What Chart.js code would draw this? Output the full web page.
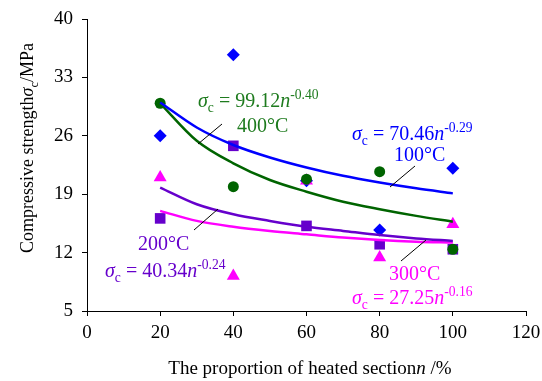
<!DOCTYPE html>
<html>
<head>
<meta charset="utf-8">
<script src="https://cdn.jsdelivr.net/npm/chart.js@4"></script>
<style>
  html, body { margin: 0; padding: 0; background: #fff; }
  #wrap { width: 542px; height: 381px; }
</style>
</head>
<body>
<div id="wrap"><canvas id="chart"></canvas></div>
<script>
// measured points (n in %, strength in MPa)
const nValues = [20, 40, 60, 80, 100];
const s100 = [26.0, 35.7, 20.6, 14.7, 22.1];
const s200 = [16.1, 24.8, 15.2, 13.0, 12.4];
const s300 = [21.0, 9.2, 20.6, 11.4, 15.4];
const s400 = [29.9, 19.9, 20.8, 21.7, 12.4];

// trend curves
const fitN = [20, 30, 40, 50, 60, 70, 80, 90, 100];
const fit100 = [30.0, 27.0, 24.9, 23.4, 22.2, 21.2, 20.4, 19.7, 19.1];
const fit200 = [19.8, 17.8, 16.6, 15.8, 15.1, 14.6, 14.1, 13.7, 13.4];
const fit300 = [17.0, 15.8, 15.1, 14.6, 14.2, 13.8, 13.5, 13.3, 13.2];
const fit400 = [29.9, 25.4, 22.7, 20.7, 19.3, 18.1, 17.2, 16.4, 15.7];

const xTicks = [0, 20, 40, 60, 80, 100, 120];
const yTicks = [5, 12, 19, 26, 33, 40];

const BLUE = '#0000ff';
const PURPLE = '#6600cc';
const MAGENTA = '#ff00ff';
const GREEN = '#006400';
const GREEN_TXT = '#1e7b1e';
const SERIF = '"Liberation Serif", "Times New Roman", serif';

function pts(xs, ys) {
    return xs.map(function(x, i) { return { x: x, y: ys[i] }; });
}

function curve(xs, ys, color) {
    return {
        type: 'line',
        data: pts(xs, ys),
        borderColor: color,
        borderWidth: 2.5,
        pointRadius: 0,
        fill: false,
        cubicInterpolationMode: 'monotone'
    };
}

function marks(ys, color, style, r) {
    return {
        type: 'scatter',
        data: pts(nValues, ys),
        backgroundColor: color,
        borderColor: color,
        borderWidth: 0,
        pointStyle: style,
        pointRadius: r,
        pointHoverRadius: r
    };
}

// draw text in pieces: italic, subscript, superscript
function richText(ctx, x, y, parts, color, size) {
    ctx.save();
    ctx.fillStyle = color;
    ctx.textBaseline = 'alphabetic';
    ctx.textAlign = 'left';
    parts.forEach(function(p) {
        let fs = size, dy = 0;
        if (p.sub) { fs = size * 0.68; dy = size * 0.25; }
        if (p.sup) { fs = size * 0.68; dy = -size * 0.42; }
        ctx.font = (p.i ? 'italic ' : '') + fs + 'px ' + SERIF;
        ctx.fillText(p.t, x, y + dy);
        x += ctx.measureText(p.t).width;
    });
    ctx.restore();
    return x;
}

function richWidth(ctx, parts, size) {
    let w = 0;
    ctx.save();
    parts.forEach(function(p) {
        const fs = (p.sub || p.sup) ? size * 0.68 : size;
        ctx.font = (p.i ? 'italic ' : '') + fs + 'px ' + SERIF;
        w += ctx.measureText(p.t).width;
    });
    ctx.restore();
    return w;
}

function eq(a, b) {
    return [
        { t: 'σ', i: true }, { t: 'c', sub: true }, { t: ' = ' + a },
        { t: 'n', i: true }, { t: b, sup: true }
    ];
}

const labels = [
    { eq: eq('99.12', '-0.40'), ex: 198, ey: 107, temp: '400°C', tx: 237, ty: 132, color: GREEN_TXT, line: [[222, 124], [198, 144]] },
    { eq: eq('70.46', '-0.29'), ex: 352, ey: 140, temp: '100°C', tx: 394, ty: 161, color: BLUE, line: [[415, 166], [390, 187]] },
    { eq: eq('40.34', '-0.24'), ex: 105, ey: 277, temp: '200°C', tx: 138, ty: 250, color: PURPLE, line: [[218, 209], [194, 230]] },
    { eq: eq('27.25', '-0.16'), ex: 352, ey: 304, temp: '300°C', tx: 389, ty: 280, color: MAGENTA, line: [[426, 240], [401, 261]] }
];

const annotate = {
    id: 'annotate',
    afterDraw: function(chart) {
        const ctx = chart.ctx;
        labels.forEach(function(l) {
            ctx.save();
            ctx.strokeStyle = '#000';
            ctx.lineWidth = 1;
            ctx.beginPath();
            ctx.moveTo(l.line[0][0], l.line[0][1]);
            ctx.lineTo(l.line[1][0], l.line[1][1]);
            ctx.stroke();
            ctx.restore();
            richText(ctx, l.ex, l.ey, l.eq, l.color, 20);
            richText(ctx, l.tx, l.ty, [{ t: l.temp }], l.color, 20);
        });

        // x axis title
        const xt = [{ t: 'The proportion of heated section' }, { t: 'n', i: true }, { t: ' /%' }];
        const xw = richWidth(ctx, xt, 19);
        richText(ctx, 310 - xw / 2, 374, xt, '#000', 19);

        // y axis title (rotated)
        const yt = [{ t: 'Compressive strength' }, { t: 'σ', i: true }, { t: 'c', sub: true }, { t: '/MPa' }];
        const yw = richWidth(ctx, yt, 18);
        ctx.save();
        ctx.translate(33, 148);
        ctx.rotate(-Math.PI / 2);
        richText(ctx, -yw / 2, 0, yt, '#000', 18);
        ctx.restore();
    }
};

new Chart(document.getElementById('chart'), {
    type: 'scatter',
    data: {
        datasets: [
            curve(fitN, fit100, BLUE),
            curve(fitN, fit400, GREEN),
            curve(fitN, fit200, PURPLE),
            curve(fitN, fit300, MAGENTA),
            marks(s400, GREEN, 'circle', 5.5),
            marks(s300, MAGENTA, 'triangle', 7.5),
            marks(s200, PURPLE, 'rect', 7.5),
            marks(s100, BLUE, 'rectRot', 6.5)
        ]
    },
    options: {
        responsive: true,
        maintainAspectRatio: false,
        animation: false,
        layout: { padding: { top: 19, right: 16, left: 0, bottom: 0 } },
        plugins: {
            legend: { display: false },
            tooltip: { enabled: false }
        },
        scales: {
            x: {
                type: 'linear',
                min: 0,
                max: 120,
                afterFit: function(s) { s.height = 70; s.paddingLeft = 0; s.paddingRight = 0; },
                afterBuildTicks: function(s) { s.ticks = xTicks.map(function(v) { return { value: v }; }); },
                grid: { drawOnChartArea: false, tickLength: 5, color: '#000', tickColor: '#000' },
                border: { color: '#000', width: 1 },
                ticks: { color: '#000', padding: 6, maxRotation: 0, font: { family: SERIF, size: 19 } }
            },
            y: {
                type: 'linear',
                min: 5,
                max: 40,
                afterFit: function(s) { s.width = 87; s.paddingTop = 0; s.paddingBottom = 0; },
                afterBuildTicks: function(s) { s.ticks = yTicks.map(function(v) { return { value: v }; }); },
                grid: { drawOnChartArea: false, tickLength: 5, color: '#000', tickColor: '#000' },
                border: { color: '#000', width: 1 },
                ticks: { color: '#000', padding: 9, font: { family: SERIF, size: 19 } }
            }
        }
    },
    plugins: [annotate]
});
</script>
</body>
</html>
